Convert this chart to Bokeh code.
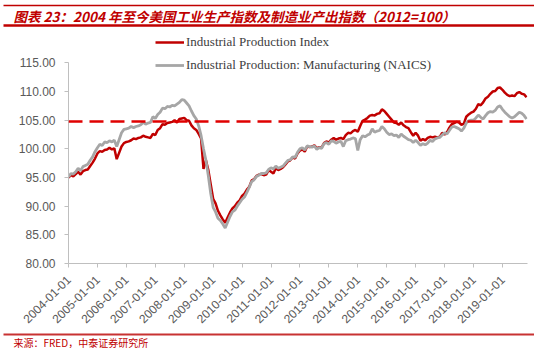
from bokeh.plotting import figure
from bokeh.layouts import column
from bokeh.models import (Range1d, FixedTicker, NumeralTickFormatter, Span, Legend,
                          LegendItem, ColumnDataSource)
from bokeh.core.properties import value
from bokeh.embed import file_html
from bokeh.resources import INLINE
import math

# ---------------- data (monthly, Jan 2004 .. Nov 2019, 2012=100) ----------------
indpro = [
    # 2004
    95.0, 95.4, 95.2, 95.6, 96.0, 95.5, 96.1, 96.3, 96.4, 97.0, 97.6, 98.3,
    # 2005
    99.2, 99.6, 99.5, 99.8, 99.9, 100.2, 99.9, 100.1, 98.2, 99.3, 100.4, 101.0,
    # 2006
    101.2, 101.3, 101.5, 101.8, 101.7, 101.9, 102.0, 102.3, 102.1, 102.0, 101.9, 102.6,
    # 2007
    102.4, 103.3, 103.6, 104.3, 104.2, 104.5, 104.6, 104.7, 105.0, 104.6, 105.2, 105.3,
    # 2008
    105.4, 105.0, 104.9, 104.1, 103.6, 103.3, 102.6, 101.8, 96.5, 98.0, 96.3, 93.8,
    # 2009
    91.3, 90.5, 89.2, 88.4, 87.7, 87.1, 88.0, 88.9, 89.6, 90.0, 90.6, 91.0,
    # 2010
    91.8, 92.2, 92.9, 93.4, 94.5, 94.7, 95.3, 95.5, 95.6, 95.4, 95.5, 96.3,
    # 2011
    96.0, 95.7, 96.6, 96.3, 96.5, 96.8, 97.3, 97.8, 98.0, 98.5, 98.3, 99.2,
    # 2012
    99.7, 99.9, 99.5, 100.4, 100.3, 100.4, 100.6, 100.1, 100.3, 100.2, 101.0, 101.3,
    # 2013
    101.1, 101.6, 101.9, 101.6, 101.8, 101.9, 101.7, 102.4, 102.8, 102.7, 103.1, 103.3,
    # 2014
    103.0, 104.0, 104.9, 105.1, 105.4, 105.8, 105.9, 105.8, 106.1, 106.2, 106.9, 106.6,
    # 2015
    106.1, 105.6, 105.1, 104.6, 104.5, 104.2, 104.6, 104.1, 103.8, 103.6, 102.9, 102.3,
    # 2016
    102.8, 102.3, 101.4, 101.7, 101.5, 101.9, 102.1, 102.0, 102.1, 102.0, 102.1, 102.8,
    # 2017
    102.5, 102.9, 103.7, 104.3, 104.5, 104.7, 104.6, 104.2, 104.4, 105.6, 106.0, 106.3,
    # 2018
    106.5, 107.0, 107.8, 107.6, 108.1, 108.8, 109.1, 109.6, 110.0, 110.1, 110.6, 110.7,
    # 2019
    110.3, 109.8, 109.4, 109.2, 109.3, 109.2, 109.7, 109.9, 109.6, 109.5, 109.0,
]
ipman = [
    # 2004
    95.1, 95.7, 95.6, 96.0, 96.6, 96.2, 96.9, 97.1, 97.3, 98.0, 98.6, 99.5,
    # 2005
    100.2, 100.8, 100.6, 101.2, 101.1, 101.4, 101.2, 101.5, 100.4, 101.6, 102.8, 103.4,
    # 2006
    103.5, 103.6, 103.9, 103.7, 103.9, 104.0, 104.2, 104.6, 104.3, 104.5, 104.6, 105.6,
    # 2007
    105.3, 106.0, 106.4, 107.1, 107.0, 107.4, 107.3, 107.6, 107.5, 107.8, 108.1, 108.6,
    # 2008
    108.5, 108.0, 107.5, 106.6, 105.8, 105.2, 104.0, 102.3, 100.0, 98.0, 95.3, 92.2,
    # 2009
    89.8, 89.0, 87.9, 87.5, 86.9, 86.2, 87.2, 88.2, 89.0, 89.3, 90.0, 90.6,
    # 2010
    91.2, 91.6, 92.4, 93.3, 94.3, 94.6, 95.2, 95.4, 95.7, 95.7, 95.8, 96.4,
    # 2011
    96.7, 96.5, 97.0, 96.6, 96.8, 97.0, 97.5, 98.0, 98.1, 98.6, 98.5, 99.4,
    # 2012
    100.0, 100.2, 99.8, 100.5, 100.4, 100.3, 100.5, 99.9, 100.2, 100.1, 100.9, 101.1,
    # 2013
    100.8, 101.4, 101.3, 101.0, 101.2, 101.3, 100.4, 101.4, 101.6, 101.7, 101.9, 101.8,
    # 2014
    99.7, 101.6, 102.3, 102.1, 102.4, 102.6, 103.5, 102.9, 103.1, 103.2, 103.9, 103.5,
    # 2015
    102.9, 102.5, 102.6, 102.3, 102.4, 102.0, 102.6, 102.2, 101.9, 101.6, 101.5, 101.1,
    # 2016
    101.5, 101.1, 100.6, 100.9, 100.7, 101.0, 101.5, 101.3, 101.7, 101.9, 102.0, 102.4,
    # 2017
    102.8, 102.6, 103.2, 103.8, 103.9, 103.7, 103.5, 103.1, 103.6, 104.5, 104.9, 105.0,
    # 2018
    105.0, 105.4, 105.9, 105.5, 105.2, 105.8, 106.3, 106.5, 106.4, 106.7, 107.3, 107.5,
    # 2019
    106.9, 106.4, 106.0, 105.6, 105.4, 105.6, 106.0, 106.4, 106.2, 105.8, 105.2,
]
reference_level = 104.75
tick_years = list(range(2004, 2020))
tick_labels = ["%d-01-01" % y for y in tick_years]
y_ticks = [80, 85, 90, 95, 100, 105, 110, 115]
series_names = ["Industrial Production Index",
                "Industrial Production: Manufacturing (NAICS)"]
title_text = "图表 23：2004 年至今美国工业生产指数及制造业产出指数（2012=100）"
source_text = "来源：FRED，中泰证券研究所"

RED = "#c00000"
GRAY = "#a6a6a6"
W = 534

month_idx = list(range(len(indpro)))
src = ColumnDataSource(dict(x=month_idx, red=indpro, gray=ipman))


def blank_fig(h):
    f = figure(width=W, height=h, x_range=Range1d(0, W), y_range=Range1d(0, h),
               output_backend="svg", toolbar_location=None, min_border=0,
               x_axis_location=None, y_axis_location=None)
    f.grid.visible = False
    f.outline_line_color = None
    f.frame_align = False
    return f


# ---------------- header (page y 0..27) ----------------
HH = 27
hdr = blank_fig(HH)
hdr.segment(x0=[3], y0=[HH - 5], x1=[W], y1=[HH - 5], line_color=RED, line_width=1.5)
hdr.segment(x0=[3], y0=[HH - 25], x1=[W], y1=[HH - 25], line_color=RED, line_width=2.5)
hdr.text(x=[13], y=[HH - 15], text=[title_text], text_color=RED,
         text_font=value("Noto Sans CJK SC"), text_font_size="13.5px",
         text_font_style="bold italic", text_baseline="middle", text_align="left")

# ---------------- main chart (page y 27..330) ----------------
MH = 303
frame_top, frame_bottom = 30, 264          # page coordinates
px_per_unit = (frame_bottom - 62.5) / 35.0
y_top = 80 + (frame_bottom - frame_top) / px_per_unit
p = figure(width=W, height=MH, output_backend="svg", toolbar_location=None,
           x_range=Range1d(0, 190.4), y_range=Range1d(80, y_top),
           min_border_left=68, min_border_right=W - 527,
           min_border_top=frame_top - HH, min_border_bottom=HH + MH - frame_bottom)
p.frame_align = False
p.grid.visible = False
p.outline_line_color = None
p.background_fill_color = "white"

r_red = p.line("x", "red", source=src, line_color=RED, line_width=2.5)
r_gray = p.line("x", "gray", source=src, line_color=GRAY, line_width=2.8)
p.add_layout(Span(location=reference_level, dimension="width", line_color="#e00000",
                  line_width=2.5, line_dash="14 7"))

p.yaxis.ticker = FixedTicker(ticks=y_ticks)
p.yaxis.formatter = NumeralTickFormatter(format="0.00")
p.yaxis.bounds = (80, 115)
p.xaxis.ticker = FixedTicker(ticks=[i * 12 for i in range(len(tick_years))])
p.xaxis.major_label_overrides = {i * 12: lab for i, lab in enumerate(tick_labels)}
p.xaxis.major_label_orientation = math.pi / 4
for ax in (p.xaxis, p.yaxis):
    ax.axis_line_color = "#bfbfbf"
    ax.major_tick_line_color = "#bfbfbf"
    ax.major_tick_out = 4
    ax.major_tick_in = 0
    ax.minor_tick_line_color = None
    ax.major_label_text_color = "#595959"
    ax.major_label_text_font = "Liberation Sans"
    ax.major_label_text_font_size = "12px"
p.yaxis.major_label_standoff = 9
p.xaxis.major_label_standoff = 10

legend = Legend(items=[LegendItem(label=series_names[0], renderers=[r_red]),
                       LegendItem(label=series_names[1], renderers=[r_gray])],
                location=(87, 188), orientation="vertical",
                label_text_font="Liberation Serif", label_text_font_size="13px",
                label_text_color="#404040", glyph_width=29, glyph_height=20,
                label_height=20, spacing=3, padding=0, margin=0, label_standoff=2,
                border_line_color=None, background_fill_alpha=0)
p.add_layout(legend)

# ---------------- footer (page y 330..348) ----------------
FH = 18
ftr = blank_fig(FH)
ftr.segment(x0=[3], y0=[FH - 4], x1=[W], y1=[FH - 4], line_color="#c83232", line_width=2)
ftr.text(x=[13], y=[6.5], text=[source_text], text_color=RED,
         text_font=value("Noto Sans CJK SC"), text_font_size="10px",
         text_baseline="middle", text_align="left")

layout = column(hdr, p, ftr, spacing=0)
open("out.html", "w").write(file_html(layout, INLINE))
